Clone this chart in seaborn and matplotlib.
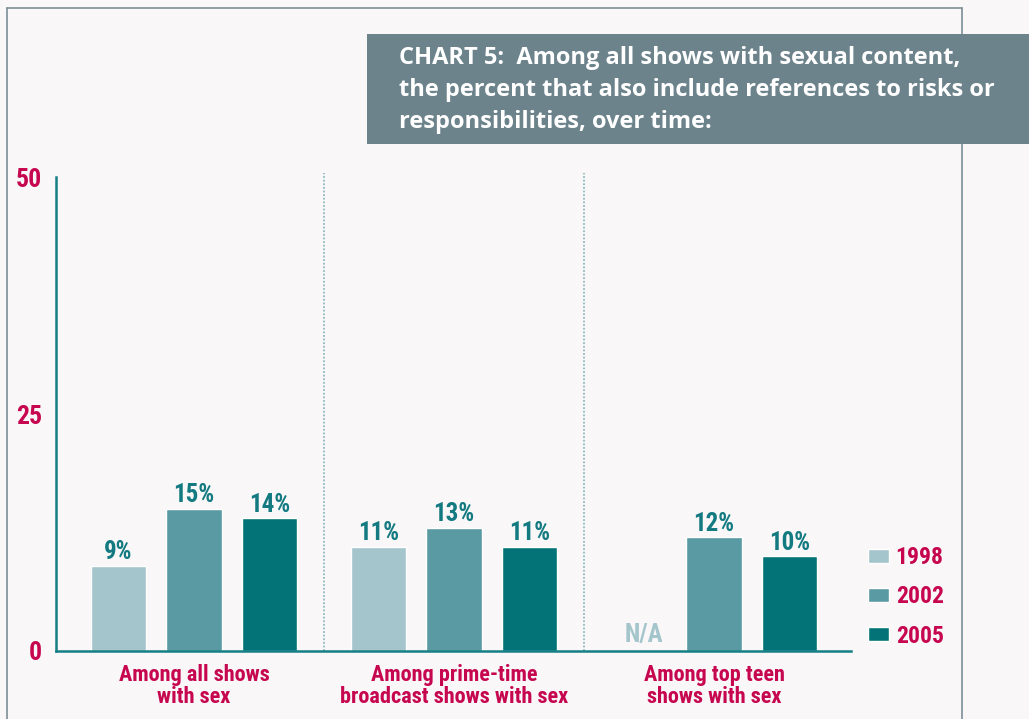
import matplotlib
matplotlib.use("Agg")
import matplotlib.pyplot as plt
from matplotlib.patches import Rectangle
from matplotlib.lines import Line2D
import numpy as np
import pandas as pd
import seaborn as sns

# ---- data -------------------------------------------------------------
categories = ["Among all shows\nwith sex",
              "Among prime-time\nbroadcast shows with sex",
              "Among top teen\nshows with sex"]
years = ["1998", "2002", "2005"]
pct_1998 = [9, 11, np.nan]      # not measured for top teen shows
pct_2002 = [15, 13, 12]
pct_2005 = [14, 11, 10]
y_ticks = [0, 25, 50]
title_text = ("CHART 5:  Among all shows with sexual content,\n"
              "the percent that also include references to risks or\n"
              "responsibilities, over time:")

# ---- style ------------------------------------------------------------
BG = "#f9f7f8"
MAGENTA = "#c6064f"
TEAL_TEXT = "#127a80"
FRAME = "#7d8f96"
palette = {"1998": "#a4c5cb", "2002": "#5a9aa2", "2005": "#037378"}
FS = 16

sns.set_theme(style="white")
plt.rcParams["font.family"] = ["Roboto Condensed", "DejaVu Sans"]

df = pd.DataFrame({
    "category": categories * 3,
    "year": [y for y in years for _ in categories],
    "pct": pct_1998 + pct_2002 + pct_2005,
})

fig = plt.figure(figsize=(10.29, 7.19), dpi=100, facecolor=BG)
ax = fig.add_axes([56 / 1029, 1 - 651 / 719, 795 / 1029, 474 / 719])
ax.set_facecolor(BG)

sns.barplot(data=df, x="category", y="pct", hue="year", order=categories,
            hue_order=years, palette=palette, width=0.871, gap=0.27,
            saturation=1, ax=ax, legend=True)

ax.set_ylim(0, 50)
ax.set_xlim(-0.531, 2.527)
ax.set_xlabel("")
ax.set_ylabel("")
ax.set_yticks(y_ticks)

for s in ["top", "right"]:
    ax.spines[s].set_visible(False)
for s in ["left", "bottom"]:
    ax.spines[s].set_color("#157f86")
    ax.spines[s].set_linewidth(1.8)

ax.tick_params(axis="y", direction="in", length=14.4, width=1.6,
               color="#157f86", pad=10, labelsize=18.5, labelcolor=MAGENTA)
ax.tick_params(axis="x", length=0, pad=9, labelsize=FS, labelcolor=MAGENTA)
for lab in ax.get_yticklabels() + ax.get_xticklabels():
    lab.set_fontweight("bold")
for lab in ax.get_xticklabels():
    lab.set_linespacing(1.05)

# value labels above bars
for cont in ax.containers:
    ax.bar_label(cont, fmt="%.0f%%", padding=1, fontsize=18,
                 fontweight="bold", color=TEAL_TEXT)

# missing 1998 value for teen shows
ax.text(2 - 0.871 / 3 + 0.02, 0.4, "N/A", ha="center", va="bottom", fontsize=18,
        fontweight="bold", color=palette["1998"])

# dotted separators between groups
for xs in (0.5, 1.5):
    ax.axvline(xs, ymin=0, ymax=1.008, color="#8dbac0", lw=1.3,
               ls=(0, (1, 1)), clip_on=False)

leg = ax.legend(loc="center left", bbox_to_anchor=(1.022, 0.114),
                frameon=False, borderaxespad=0, borderpad=0,
                handlelength=0.85, handleheight=0.55, handletextpad=0.3,
                labelspacing=0.68, fontsize=17)
for t in leg.get_texts():
    t.set_color(MAGENTA)
    t.set_fontweight("bold")

# page frame
fig.add_artist(Line2D([7 / 1029, 7 / 1029], [0, 1 - 8 / 719], color=FRAME, lw=1.2))
fig.add_artist(Line2D([7 / 1029, 962 / 1029], [1 - 8 / 719, 1 - 8 / 719], color=FRAME, lw=1.2))
fig.add_artist(Line2D([962 / 1029, 962 / 1029], [0, 1 - 8 / 719], color=FRAME, lw=1.2))

# title banner
fig.add_artist(Rectangle((367 / 1029, 1 - 144 / 719), (1029 - 367) / 1029, 110 / 719,
                         transform=fig.transFigure, facecolor="#6c838c",
                         edgecolor="none", zorder=5))
fig.text(399 / 1029, 1 - 90 / 719, title_text, ha="left", va="center",
         fontsize=17, fontweight="bold", color="white", linespacing=1.42,
         family=["Open Sans", "DejaVu Sans"], zorder=6)

fig.savefig("out.png", dpi=100, facecolor=BG)
